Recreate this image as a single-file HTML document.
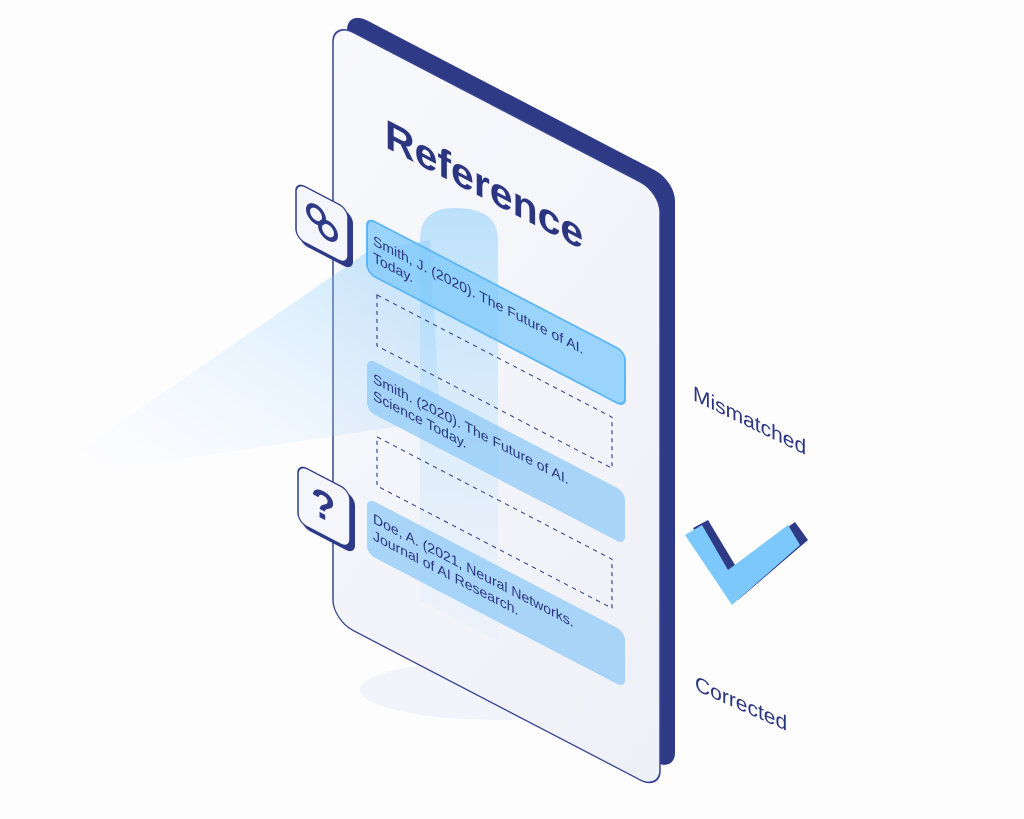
<!DOCTYPE html>
<html><head><meta charset="utf-8"><style>
html,body{margin:0;padding:0;background:#fff;}
svg{display:block;}
text{font-family:"Liberation Sans",sans-serif;}
</style></head><body>
<svg width="1024" height="819" viewBox="0 0 1024 819" xmlns="http://www.w3.org/2000/svg">
<defs>
<linearGradient id="beam" x1="0" y1="1" x2="1" y2="0">
<stop offset="0" stop-color="#cfe8ff" stop-opacity="0"/>
<stop offset="1" stop-color="#7cc4fa" stop-opacity="0.6"/>
</linearGradient>
<linearGradient id="col" x1="0" y1="0" x2="0" y2="1">
<stop offset="0" stop-color="#8fd0fb" stop-opacity="0.8"/>
<stop offset="1" stop-color="#cfe9fd" stop-opacity="0.2"/>
</linearGradient>
<linearGradient id="face" x1="0" y1="0" x2="1" y2="1">
<stop offset="0" stop-color="#f8f9fc"/>
<stop offset="1" stop-color="#eef0f7"/>
</linearGradient>
</defs>
<rect width="1024" height="819" fill="#fdfdfe"/>
<ellipse cx="500" cy="690" rx="140" ry="30" fill="#e6ecf8" opacity="0.5"/>
<g transform="translate(347,10) skewY(27.5)">
<rect x="0" y="0" width="328" height="592" rx="20" fill="#2e3a86"/>
</g>
<g transform="translate(333,22) skewY(27.5)">
<rect x="0" y="0" width="327" height="598" rx="20" fill="url(#face)" stroke="#3a4590" stroke-width="1.5"/>
</g>
<polygon points="80,450 370,250 430,240 440,420 110,470" fill="url(#beam)" opacity="0.75"/>
<path d="M420,600 L420,240 Q420,208 455,208 Q498,208 498,240 L498,640 Z" fill="url(#col)" opacity="0.7"/>
<g transform="translate(333,22) skewY(27.5)">
<text x="52" y="98" font-size="41" font-weight="bold" fill="#2b3580">Reference</text>
<rect x="34" y="178" width="258" height="55" rx="8" fill="#7cc8fb" fill-opacity="0.75" stroke="#5cb6f5" stroke-width="2"/>
<text x="40" y="202" font-size="14" fill="#2b3580">Smith, J. (2020). The Future of AI.</text>
<text x="40" y="219" font-size="14" fill="#2b3580">Today.</text>
<rect x="44" y="250" width="235" height="51" fill="none" stroke="#3a4590" stroke-dasharray="4,4" stroke-width="1.2"/>
<rect x="34" y="318" width="258" height="53" rx="8" fill="#8fc9f7" fill-opacity="0.75"/>
<text x="40" y="340" font-size="14" fill="#2b3580">Smith. (2020). The Future of AI.</text>
<text x="40" y="357" font-size="14" fill="#2b3580">Science Today.</text>
<rect x="44" y="392" width="235" height="49" fill="none" stroke="#3a4590" stroke-dasharray="4,4" stroke-width="1.2"/>
<rect x="34" y="458" width="258" height="56" rx="8" fill="#8fc9f7" fill-opacity="0.75"/>
<text x="40" y="480" font-size="14" fill="#2b3580">Doe, A. (2021, Neural Networks.</text>
<text x="40" y="497" font-size="14" fill="#2b3580">Journal of AI Research.</text>
</g>
<g transform="translate(296,182) skewY(27.5)">
<rect x="3" y="3" width="54" height="56" rx="9" fill="#2e3a86"/>
<rect x="0" y="0" width="52" height="56" rx="9" fill="#f4f6fb" stroke="#2e3a86" stroke-width="1.5"/>
<circle cx="20" cy="22" r="8" fill="none" stroke="#2e3a86" stroke-width="4"/>
<circle cx="32" cy="32" r="8" fill="none" stroke="#2e3a86" stroke-width="4"/>
</g>
<g transform="translate(298,464) skewY(27.5)">
<rect x="3" y="3" width="54" height="58" rx="9" fill="#2e3a86"/>
<rect x="0" y="0" width="52" height="58" rx="9" fill="#f4f6fb" stroke="#2e3a86" stroke-width="1.5"/>
<text x="13" y="42" font-size="40" font-weight="bold" fill="#2e3a86">?</text>
</g>
<path d="M693,528 L708,520 L735,565 L795,522 L808,540 L738,600 Z" fill="#2e3a86"/>
<path d="M685,535 L702,525 L728,570 L788,525 L800,545 L732,605 Z" fill="#7cc8fb"/>
<g transform="translate(693,400) skewY(26)"><text font-size="21" fill="#2b3580">Mismatched</text></g>
<g transform="translate(695,690) skewY(24)"><text font-size="21" fill="#2b3580">Corrected</text></g>
</svg>
</body></html>
